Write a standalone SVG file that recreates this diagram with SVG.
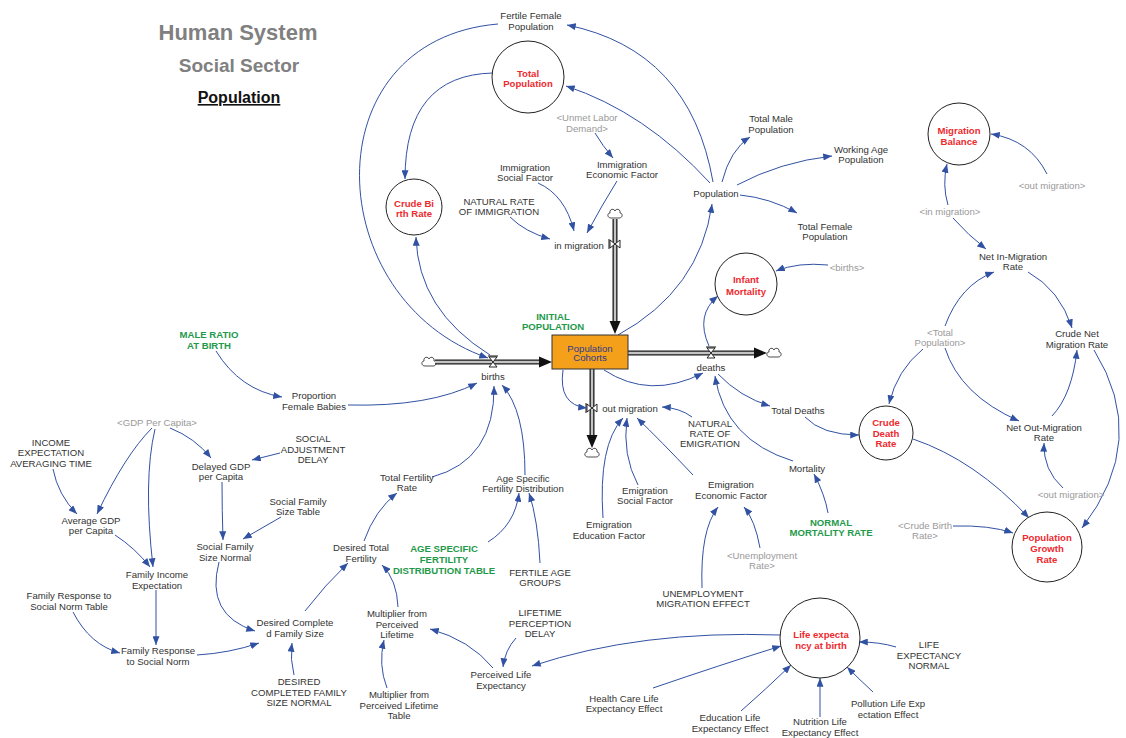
<svg xmlns="http://www.w3.org/2000/svg" width="1126" height="738" viewBox="0 0 1126 738">
  <style>
    text { font-family: "Liberation Sans", Arial, sans-serif; font-size: 9.6px; text-anchor: middle; fill: #333; }
    .sh { fill: #9a9a9a; }
    .k { fill: #1f9a4b; font-weight: bold; }
    .r { fill: #ee2a2f; font-weight: bold; }
    .sk { fill: #2e3a8f; }
    .circ { fill: #fff; stroke: #222; stroke-width: 1; }
    .lnk { fill: none; stroke: #3151a3; stroke-width: 1; marker-end: url(#ah); }
    .pipeO { stroke: #1a1a1a; stroke-width: 5; fill: none; }
    .pipeI { stroke: #c4c4c4; stroke-width: 2.4; fill: none; }
    .fhead { fill: #111; }
    .valve { fill: #fff; stroke: #111; stroke-width: 0.9; }
  </style>
  <defs>
    <marker id="ah" viewBox="0 0 10 8" refX="10" refY="4" markerWidth="9" markerHeight="7" markerUnits="userSpaceOnUse" orient="auto">
      <path d="M0,0 L10,4 L0,8 z" fill="#3151a3"/>
    </marker>
    <path id="cloud" d="M-4,4 C-8,4 -8,-1 -5,-1 C-6,-5 -1,-6 0,-3 C1,-6 6,-5 5,-1 C8,-1 8,4 4,4 Z" fill="#fff" stroke="#222" stroke-width="0.8"/>
    <g id="valve">
      <polygon class="valve" points="-4,-5 4,-5 -4,5 4,5"/>
      <line x1="-5" y1="-6" x2="5" y2="-6" stroke="#111" stroke-width="1"/>
    </g>
  </defs>

  <rect width="1126" height="738" fill="#fff"/>

  <!-- Headings -->
  <g id="titles">
    <text x="238" y="40" style="font-size:22px;font-weight:bold;fill:#808080">Human System</text>
    <text x="239" y="72" style="font-size:19px;font-weight:bold;fill:#808080">Social Sector</text>
    <text x="239" y="103" style="font-size:16px;font-weight:bold;fill:#111" text-decoration="underline">Population</text>
  </g>

  <!-- Material flows into and out of the stock -->
  <g id="flows">
    <use href="#cloud" x="429" y="362"/>
    <line class="pipeO" x1="435" y1="362" x2="540" y2="362"/>
    <line class="pipeI" x1="435" y1="362" x2="540" y2="362"/>
    <polygon class="fhead" points="539,356.5 552,362 539,367.5"/>

    <line class="pipeO" x1="628" y1="353" x2="755" y2="353"/>
    <line class="pipeI" x1="628" y1="353" x2="755" y2="353"/>
    <polygon class="fhead" points="754,347.5 767,353 754,358.5"/>
    <use href="#cloud" x="774" y="353"/>

    <use href="#cloud" x="615" y="214"/>
    <line class="pipeO" x1="615" y1="219" x2="615" y2="322"/>
    <line class="pipeI" x1="615" y1="219" x2="615" y2="322"/>
    <polygon class="fhead" points="609.5,321 615,334 620.5,321"/>

    <line class="pipeO" x1="592" y1="369" x2="592" y2="436"/>
    <line class="pipeI" x1="592" y1="369" x2="592" y2="436"/>
    <polygon class="fhead" points="586.5,435 592,448 597.5,435"/>
    <use href="#cloud" x="592" y="453"/>

    <use href="#valve" x="493" y="362"/>
    <use href="#valve" x="711" y="353"/>
    <use href="#valve" transform="translate(615 244) rotate(-90)"/>
    <use href="#valve" transform="translate(592 408) rotate(-90)"/>
  </g>

  <!-- Causal links -->
  <g id="links">
    <path class="lnk" d="M713,182 Q690,50 567,25"/>
    <path class="lnk" d="M710,183 Q645,112 566,86"/>
    <path class="lnk" d="M493,73 Q405,75 405,179"/>
    <path class="lnk" d="M498,24 C310,40 320,300 488,358"/>
    <path class="lnk" d="M490,355 Q418,310 416,237"/>
    <path class="lnk" d="M618,335 Q700,290 712,204"/>
    <path class="lnk" d="M722,182 Q730,150 750,137"/>
    <path class="lnk" d="M737,185 Q780,162 832,156"/>
    <path class="lnk" d="M740,195 Q770,198 797,213"/>
    <path class="lnk" d="M595,133 Q602,145 613,158"/>
    <path class="lnk" d="M538,183 Q565,195 574,231"/>
    <path class="lnk" d="M617,181 Q602,205 587,233"/>
    <path class="lnk" d="M510,217 Q525,232 550,239"/>
    <path class="lnk" d="M828,265 Q798,262 776,271"/>
    <path class="lnk" d="M709,346 Q695,315 718,296"/>
    <path class="lnk" d="M604,370 Q650,400 703,373"/>
    <path class="lnk" d="M563,370 Q558,405 587,408"/>
    <path class="lnk" d="M718,374 Q740,397 770,406"/>
    <path class="lnk" d="M805,417 Q822,435 859,435"/>
    <path class="lnk" d="M793,461 Q725,440 715,376"/>
    <path class="lnk" d="M828,513 Q825,495 814,474"/>
    <path class="lnk" d="M948,205 Q942,185 947,164"/>
    <path class="lnk" d="M953,218 Q968,235 986,249"/>
    <path class="lnk" d="M1047,174 Q1030,140 991,134"/>
    <path class="lnk" d="M1028,272 Q1060,290 1072,328"/>
    <path class="lnk" d="M945,326 Q960,285 994,272"/>
    <path class="lnk" d="M923,349 Q897,370 889,404"/>
    <path class="lnk" d="M945,348 Q960,395 1019,421"/>
    <path class="lnk" d="M1052,416 Q1072,395 1077,350"/>
    <path class="lnk" d="M1094,350 Q1150,440 1082,528"/>
    <path class="lnk" d="M1063,488 Q1043,470 1044,443"/>
    <path class="lnk" d="M913,439 Q975,460 1029,518"/>
    <path class="lnk" d="M953,526 Q990,525 1013,533"/>
    <path class="lnk" d="M216,351 Q240,390 282,397"/>
    <path class="lnk" d="M348,405 Q430,407 477,383"/>
    <path class="lnk" d="M432,477 Q495,460 494,386"/>
    <path class="lnk" d="M525,475 Q525,410 502,385"/>
    <path class="lnk" d="M170,428 Q195,438 211,458"/>
    <path class="lnk" d="M280,453 L252,460"/>
    <path class="lnk" d="M152,428 Q125,455 97,514"/>
    <path class="lnk" d="M155,429 Q143,480 153,567"/>
    <path class="lnk" d="M53,469 Q58,495 77,514"/>
    <path class="lnk" d="M222,482 Q222,510 223,540"/>
    <path class="lnk" d="M281,517 L243,539"/>
    <path class="lnk" d="M115,535 Q135,548 150,567"/>
    <path class="lnk" d="M156,590 L156,645"/>
    <path class="lnk" d="M73,612 Q90,645 120,653"/>
    <path class="lnk" d="M197,655 Q230,653 259,643"/>
    <path class="lnk" d="M219,562 Q205,615 255,631"/>
    <path class="lnk" d="M294,675 Q290,660 292,643"/>
    <path class="lnk" d="M305,611 Q325,585 348,563"/>
    <path class="lnk" d="M364,541 Q375,510 397,493"/>
    <path class="lnk" d="M398,607 Q397,580 382,565"/>
    <path class="lnk" d="M387,688 Q378,665 384,640"/>
    <path class="lnk" d="M516,638 Q505,650 503,667"/>
    <path class="lnk" d="M493,668 Q470,640 430,629"/>
    <path class="lnk" d="M780,635 Q640,630 532,666"/>
    <path class="lnk" d="M488,542 Q515,525 519,493"/>
    <path class="lnk" d="M540,563 Q538,520 529,493"/>
    <path class="lnk" d="M603,518 Q598,445 623,418"/>
    <path class="lnk" d="M638,485 Q622,455 627,418"/>
    <path class="lnk" d="M693,475 Q660,440 637,418"/>
    <path class="lnk" d="M692,417 Q680,408 662,407"/>
    <path class="lnk" d="M702,588 Q700,530 718,507"/>
    <path class="lnk" d="M760,548 Q755,520 744,507"/>
    <path class="lnk" d="M653,688 Q720,665 781,646"/>
    <path class="lnk" d="M741,711 Q765,690 791,665"/>
    <path class="lnk" d="M820,717 L820,678"/>
    <path class="lnk" d="M873,692 Q860,680 847,667"/>
    <path class="lnk" d="M896,647 Q880,642 859,642"/>
  </g>

  <!-- Stock -->
  <g id="populationCohorts">
    <rect x="552" y="335" width="76" height="34" fill="#f5a01a" stroke="#333" stroke-width="1"/>
    <text class="sk" x="590" y="351.5">Population</text>
    <text class="sk" x="590" y="361">Cohorts</text>
  </g>

  <!-- Flow rate labels -->
  <g id="births"><text x="493" y="379.5">births</text></g>
  <g id="deaths"><text x="711" y="370.5">deaths</text></g>
  <g id="inMigration"><text x="579" y="248.5">in migration</text></g>
  <g id="outMigration"><text x="630" y="411.5">out migration</text></g>

  <!-- Key output variables -->
  <g id="totalPopulation">
    <circle class="circ" cx="528" cy="77" r="36"/>
    <text class="r" x="528" y="76.5">Total</text>
    <text class="r" x="528" y="86.5">Population</text>
  </g>
  <g id="crudeBirthRate">
    <circle class="circ" cx="414" cy="207" r="28"/>
    <text class="r" x="414" y="206.5">Crude Bi</text>
    <text class="r" x="414" y="216.5">rth Rate</text>
  </g>
  <g id="migrationBalance">
    <circle class="circ" cx="959" cy="134" r="31"/>
    <text class="r" x="959" y="133.5">Migration</text>
    <text class="r" x="959" y="144.5">Balance</text>
  </g>
  <g id="infantMortality">
    <circle class="circ" cx="746" cy="284" r="31"/>
    <text class="r" x="746" y="282.5">Infant</text>
    <text class="r" x="746" y="294.5">Mortality</text>
  </g>
  <g id="crudeDeathRate">
    <circle class="circ" cx="886" cy="433" r="27"/>
    <text class="r" x="886" y="425.5">Crude</text>
    <text class="r" x="886" y="436.5">Death</text>
    <text class="r" x="886" y="446.5">Rate</text>
  </g>
  <g id="populationGrowthRate">
    <circle class="circ" cx="1047" cy="547" r="35"/>
    <text class="r" x="1047" y="540.5">Population</text>
    <text class="r" x="1047" y="551.5">Growth</text>
    <text class="r" x="1047" y="562.5">Rate</text>
  </g>
  <g id="lifeExpectancyAtBirth">
    <circle class="circ" cx="820" cy="638" r="40"/>
    <text class="r" x="821" y="637.5">Life expecta</text>
    <text class="r" x="821" y="648.5">ncy at birth</text>
  </g>

  <!-- Auxiliary variables -->
  <g id="fertileFemalePopulation"><text x="531" y="18.5">Fertile Female</text><text x="531" y="29.5">Population</text></g>
  <g id="unmetLaborDemand"><text class="sh" x="587" y="120.5">&lt;Unmet Labor</text><text class="sh" x="587" y="131.5">Demand&gt;</text></g>
  <g id="immigrationEconomicFactor"><text x="622" y="167.5">Immigration</text><text x="622" y="177.5">Economic Factor</text></g>
  <g id="immigrationSocialFactor"><text x="525" y="170.5">Immigration</text><text x="525" y="180.5">Social Factor</text></g>
  <g id="naturalRateOfImmigration"><text x="499" y="204.5">NATURAL RATE</text><text x="499" y="214.5">OF IMMIGRATION</text></g>
  <g id="population"><text x="716" y="196.5">Population</text></g>
  <g id="totalMalePopulation"><text x="771" y="121.5">Total Male</text><text x="771" y="132.5">Population</text></g>
  <g id="workingAgePopulation"><text x="861" y="152.5">Working Age</text><text x="861" y="162.5">Population</text></g>
  <g id="totalFemalePopulation"><text x="825" y="229.5">Total Female</text><text x="825" y="239.5">Population</text></g>
  <g id="inMigrationShadow"><text class="sh" x="950" y="214.5">&lt;in migration&gt;</text></g>
  <g id="outMigrationShadowTop"><text class="sh" x="1052" y="188.5">&lt;out migration&gt;</text></g>
  <g id="netInMigrationRate"><text x="1013" y="259.5">Net In-Migration</text><text x="1013" y="269.5">Rate</text></g>
  <g id="crudeNetMigrationRate"><text x="1077" y="336.5">Crude Net</text><text x="1077" y="347.5">Migration Rate</text></g>
  <g id="totalPopulationShadow"><text class="sh" x="940" y="335.5">&lt;Total</text><text class="sh" x="940" y="345.5">Population&gt;</text></g>
  <g id="netOutMigrationRate"><text x="1044" y="430.5">Net Out-Migration</text><text x="1044" y="440.5">Rate</text></g>
  <g id="outMigrationShadowBottom"><text class="sh" x="1071" y="497.5">&lt;out migration&gt;</text></g>
  <g id="crudeBirthRateShadow"><text class="sh" x="925" y="528.5">&lt;Crude Birth</text><text class="sh" x="925" y="538.5">Rate&gt;</text></g>
  <g id="birthsShadow"><text class="sh" x="847" y="270.5">&lt;births&gt;</text></g>
  <g id="totalDeaths"><text x="798" y="413.5">Total Deaths</text></g>
  <g id="mortality"><text x="807" y="471.5">Mortality</text></g>
  <g id="normalMortalityRate"><text class="k" x="831" y="525.5">NORMAL</text><text class="k" x="831" y="535.5">MORTALITY RATE</text></g>
  <g id="initialPopulation"><text class="k" x="553" y="319.5">INITIAL</text><text class="k" x="553" y="329.5">POPULATION</text></g>
  <g id="naturalRateOfEmigration"><text x="710" y="426.5">NATURAL</text><text x="710" y="436.5">RATE OF</text><text x="710" y="446.5">EMIGRATION</text></g>
  <g id="maleRatioAtBirth"><text class="k" x="209" y="337.5">MALE RATIO</text><text class="k" x="209" y="348.5">AT BIRTH</text></g>
  <g id="proportionFemaleBabies"><text x="314" y="398.5">Proportion</text><text x="314" y="409.5">Female Babies</text></g>
  <g id="gdpPerCapitaShadow"><text class="sh" x="157" y="425.5">&lt;GDP Per Capita&gt;</text></g>
  <g id="incomeExpectationAveragingTime"><text x="51" y="445.5">INCOME</text><text x="51" y="455.5">EXPECTATION</text><text x="51" y="466.5">AVERAGING TIME</text></g>
  <g id="socialAdjustmentDelay"><text x="313" y="441.5">SOCIAL</text><text x="313" y="452.5">ADJUSTMENT</text><text x="313" y="462.5">DELAY</text></g>
  <g id="delayedGdpPerCapita"><text x="221" y="469.5">Delayed GDP</text><text x="221" y="479.5">per Capita</text></g>
  <g id="averageGdpPerCapita"><text x="91" y="523.5">Average GDP</text><text x="91" y="533.5">per Capita</text></g>
  <g id="socialFamilySizeTable"><text x="298" y="504.5">Social Family</text><text x="298" y="514.5">Size Table</text></g>
  <g id="socialFamilySizeNormal"><text x="225" y="549.5">Social Family</text><text x="225" y="560.5">Size Normal</text></g>
  <g id="familyIncomeExpectation"><text x="157" y="577.5">Family Income</text><text x="157" y="588.5">Expectation</text></g>
  <g id="familyResponseTable"><text x="69" y="598.5">Family Response to</text><text x="69" y="609.5">Social Norm Table</text></g>
  <g id="familyResponseToSocialNorm"><text x="158" y="653.5">Family Response</text><text x="158" y="664.5">to Social Norm</text></g>
  <g id="desiredCompletedFamilySize"><text x="295" y="625.5">Desired Complete</text><text x="295" y="636.5">d Family Size</text></g>
  <g id="desiredCompletedFamilySizeNormal"><text x="299" y="684.5">DESIRED</text><text x="299" y="695.5">COMPLETED FAMILY</text><text x="299" y="705.5">SIZE NORMAL</text></g>
  <g id="desiredTotalFertility"><text x="361" y="550.5">Desired Total</text><text x="361" y="561.5">Fertility</text></g>
  <g id="totalFertilityRate"><text x="407" y="480.5">Total Fertility</text><text x="407" y="490.5">Rate</text></g>
  <g id="ageSpecificFertilityDistribution"><text x="523" y="481.5">Age Specific</text><text x="523" y="491.5">Fertility Distribution</text></g>
  <g id="ageSpecificFertilityDistributionTable"><text class="k" x="444" y="551.5">AGE SPECIFIC</text><text class="k" x="444" y="562.5">FERTILITY</text><text class="k" x="444" y="573.5">DISTRIBUTION TABLE</text></g>
  <g id="fertileAgeGroups"><text x="540" y="575.5">FERTILE AGE</text><text x="540" y="585.5">GROUPS</text></g>
  <g id="multiplierFromPerceivedLifetime"><text x="397" y="616.5">Multiplier from</text><text x="397" y="627.5">Perceived</text><text x="397" y="637.5">Lifetime</text></g>
  <g id="multiplierFromPerceivedLifetimeTable"><text x="399" y="697.5">Multiplier from</text><text x="399" y="708.5">Perceived Lifetime</text><text x="399" y="718.5">Table</text></g>
  <g id="lifetimePerceptionDelay"><text x="540" y="615.5">LIFETIME</text><text x="540" y="626.5">PERCEPTION</text><text x="540" y="636.5">DELAY</text></g>
  <g id="perceivedLifeExpectancy"><text x="501" y="677.5">Perceived Life</text><text x="501" y="688.5">Expectancy</text></g>
  <g id="emigrationSocialFactor"><text x="645" y="493.5">Emigration</text><text x="645" y="503.5">Social Factor</text></g>
  <g id="emigrationEducationFactor"><text x="609" y="527.5">Emigration</text><text x="609" y="538.5">Education Factor</text></g>
  <g id="emigrationEconomicFactor"><text x="731" y="487.5">Emigration</text><text x="731" y="498.5">Economic Factor</text></g>
  <g id="unemploymentRateShadow"><text class="sh" x="762" y="558.5">&lt;Unemployment</text><text class="sh" x="762" y="568.5">Rate&gt;</text></g>
  <g id="unemploymentMigrationEffect"><text x="703" y="596.5">UNEMPLOYMENT</text><text x="703" y="606.5">MIGRATION EFFECT</text></g>
  <g id="lifeExpectancyNormal"><text x="929" y="647.5">LIFE</text><text x="929" y="658.5">EXPECTANCY</text><text x="929" y="668.5">NORMAL</text></g>
  <g id="pollutionLifeExpectationEffect"><text x="888" y="706.5">Pollution Life Exp</text><text x="888" y="717.5">ectation Effect</text></g>
  <g id="nutritionLifeExpectancyEffect"><text x="820" y="724.5">Nutrition Life</text><text x="820" y="735.5">Expectancy Effect</text></g>
  <g id="educationLifeExpectancyEffect"><text x="730" y="720.5">Education Life</text><text x="730" y="731.5">Expectancy Effect</text></g>
  <g id="healthCareLifeExpectancyEffect"><text x="624" y="701.5">Health Care Life</text><text x="624" y="711.5">Expectancy Effect</text></g>
</svg>
